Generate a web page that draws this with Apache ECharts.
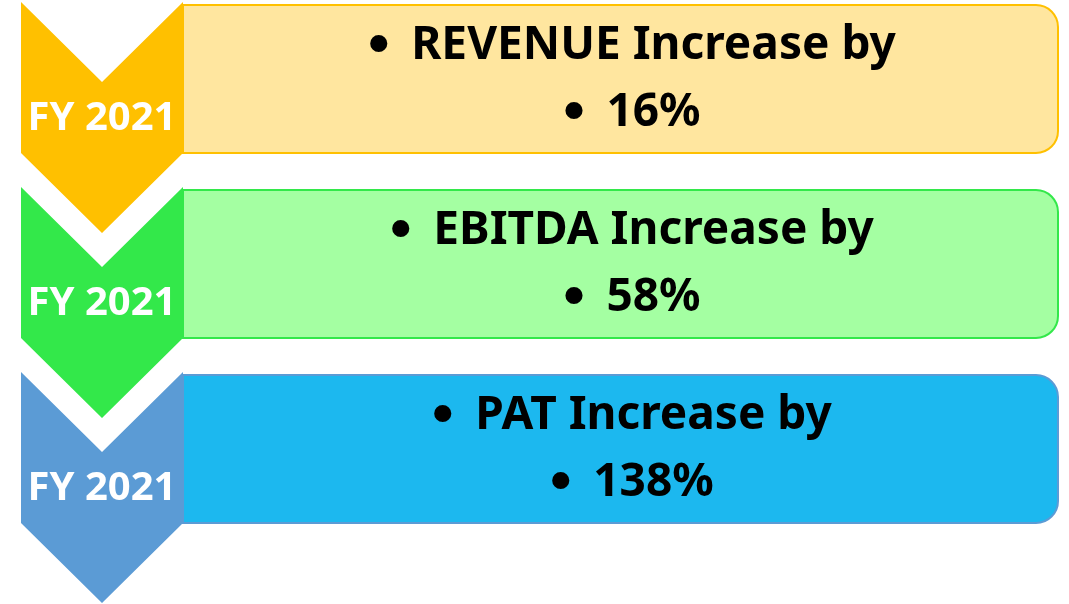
<!DOCTYPE html>
<html>
<head>
<meta charset="utf-8">
<script src="https://cdn.jsdelivr.net/npm/echarts@6/dist/echarts.min.js"></script>
<style>
  html, body { margin: 0; padding: 0; background: #fff; }
  #growthChart { width: 1069px; height: 604px; }
</style>
</head>
<body>
<div id="growthChart"></div>
<script>
// 数据
const stages = ['FY 2021', 'FY 2021', 'FY 2021']
const metrics = ['REVENUE', 'EBITDA', 'PAT']
const increases = [16, 58, 138]

// 颜色
const chevronColors = ['#FFC000', '#33E84A', '#5B9BD5']
const boxFills = ['#FFE69F', '#A4FFA2', '#1CB8EF']
const boxBorders = ['#FFC000', '#33E84A', '#5B9BD5']

const rowStep = 185
const fontFamily = '"Noto Sans", "Open Sans", sans-serif'

const chart = echarts.init(document.getElementById('growthChart'))

// 带圆点的文字样式
const bulletRich = {
  b: { font: 'bold 60px "Liberation Sans", sans-serif', fill: '#000', padding: [0, 22, 0, 0] },
  t: { font: 'bold 46px ' + fontFamily, fill: '#000' }
}

function renderRow (params, api) {
  const i = api.value(0)
  const top = 2 + rowStep * i
  const p = (x, y) => api.coord([x, top + y])
  const boxTL = p(183, 3)
  const boxBR = p(1058, 151)
  return {
    type: 'group',
    children: [{
      type: 'rect',
      shape: {
        x: boxTL[0], y: boxTL[1],
        width: boxBR[0] - boxTL[0], height: boxBR[1] - boxTL[1],
        r: [0, 22, 22, 0]
      },
      style: { fill: boxFills[i], stroke: boxBorders[i], lineWidth: 2 }
    }, {
      type: 'polygon',
      shape: {
        points: [p(21, 0), p(102, 80), p(183, 0), p(183, 151), p(102, 231), p(21, 151)]
      },
      style: { fill: chevronColors[i] }
    }, {
      type: 'text',
      style: {
        x: p(102, 0)[0], y: p(0, 117)[1],
        text: stages[i],
        fill: '#fff',
        font: 'bold 40px ' + fontFamily,
        align: 'center', verticalAlign: 'middle'
      }
    }, {
      type: 'text',
      style: {
        x: p(632, 0)[0], y: p(0, 44)[1],
        text: '{b|•}{t|' + metrics[i] + ' Increase by}',
        align: 'center', verticalAlign: 'middle',
        rich: bulletRich
      }
    }, {
      type: 'text',
      style: {
        x: p(632, 0)[0], y: p(0, 111)[1],
        text: '{b|•}{t|' + increases[i] + '%}',
        align: 'center', verticalAlign: 'middle',
        rich: bulletRich
      }
    }]
  }
}

const option = {
  backgroundColor: '#fff',
  animation: false,
  grid: { left: 0, right: 0, top: 0, bottom: 0 },
  xAxis: { type: 'value', min: 0, max: 1069, show: false },
  yAxis: { type: 'value', min: 0, max: 604, inverse: true, show: false },
  series: [{
    type: 'custom',
    clip: false,
    renderItem: renderRow,
    data: metrics.map((m, i) => [i])
  }]
}

chart.setOption(option)
</script>
</body>
</html>
